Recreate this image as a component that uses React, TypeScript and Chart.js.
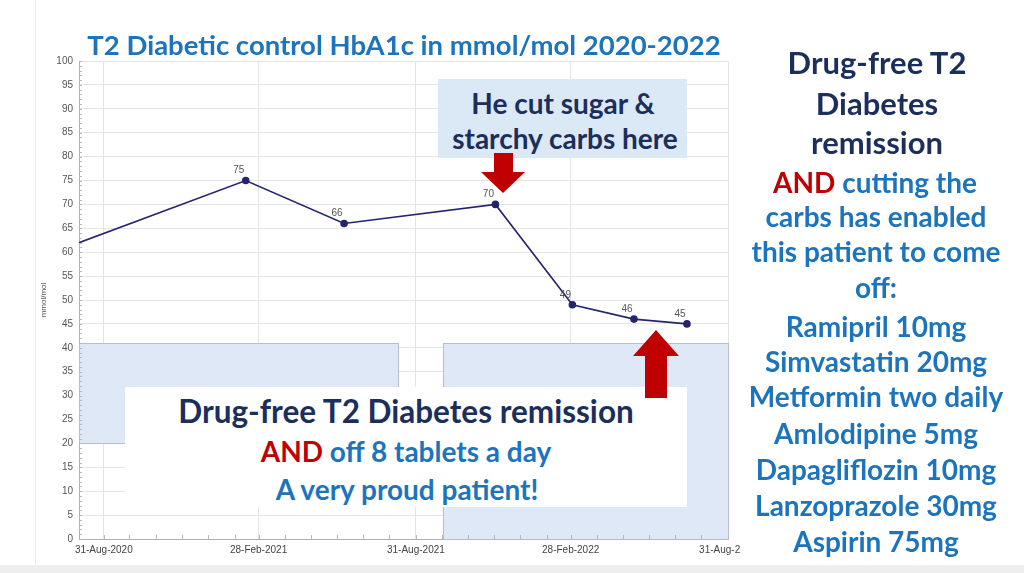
import React, { useEffect, useRef } from 'react';
import { Chart, registerables } from 'chart.js';

Chart.register(...registerables);

// ---------- data ----------
const axisStart = '2020-08-02';
const axisEnd = '2022-08-31';
const xTickDates = ['2020-08-31', '2021-02-28', '2021-08-31', '2022-02-28', '2022-08-31'];
const xTickLabels = ['31-Aug-2020', '28-Feb-2021', '31-Aug-2021', '28-Feb-2022', '31-Aug-2022'];
const testDates = ['2020-08-02', '2021-02-13', '2021-06-08', '2021-12-02', '2022-03-02', '2022-05-13', '2022-07-14'];
const hba1cValues = [62, 75, 66, 70, 49, 46, 45];
const valueLabels = ['', '75', '66', '70', '49', '46', '45'];
const yMin = 0;
const yMax = 100;
const yStep = 5;
const bandDates = [['2020-08-02', '2021-08-10'], ['2021-10-02', '2022-08-31']];
const bandLows = [20, 0];
const bandHighs = [41, 41];

const chartTitle = 'T2 Diabetic control HbA1c in mmol/mol 2020-2022';
const yAxisTitle = 'mmol/mol';
const topNoteLines = ['He cut sugar &', 'starchy carbs here'];
const boxHeadline = 'Drug-free T2 Diabetes remission';
const boxAnd = 'AND';
const boxLine2 = ' off 8 tablets a day';
const boxLine3 = 'A very proud patient!';
const sideHeading = ['Drug-free T2', 'Diabetes', 'remission'];
const sideAnd = 'AND';
const sideIntro = [' cutting the', 'carbs has enabled', 'this patient to come', 'off:'];
const drugsStopped = ['Ramipril 10mg', 'Simvastatin 20mg', 'Metformin two daily', 'Amlodipine 5mg', 'Dapagliflozin 10mg', 'Lanzoprazole 30mg', 'Aspirin 75mg'];

// ---------- helpers ----------
const DAY = 86400000;
const dayNum = (s: string) => Date.parse(s) / DAY;

const NAVY = '#1b2e5c';
const BLUE = '#1c74bc';
const RED = '#c00000';
const LINE = '#25256f';
const FONT = "Lato, 'Open Sans', sans-serif";

const bandPlugin = {
  id: 'bands',
  beforeDatasetsDraw(chart: any) {
    const { ctx, scales } = chart;
    const xs = scales.x;
    const ys = scales.y;
    ctx.save();
    bandDates.forEach((d, i) => {
      const x1 = Math.round(xs.getPixelForValue(dayNum(d[0]))) + 0.5;
      const x2 = Math.round(xs.getPixelForValue(dayNum(d[1]))) + 0.5;
      const y1 = Math.round(ys.getPixelForValue(bandHighs[i])) + 0.5;
      const y2 = Math.round(ys.getPixelForValue(bandLows[i])) + 0.5;
      ctx.fillStyle = '#dfe8f6';
      ctx.fillRect(x1, y1, x2 - x1, y2 - y1);
      ctx.strokeStyle = '#b4bfce';
      ctx.lineWidth = 1;
      ctx.strokeRect(x1, y1, x2 - x1, y2 - y1);
    });
    ctx.restore();
  },
};

const minorTickPlugin = {
  id: 'minorTicks',
  afterDatasetsDraw(chart: any) {
    const { ctx, scales, chartArea } = chart;
    const xs = scales.x;
    const ys = scales.y;
    ctx.save();
    ctx.strokeStyle = '#b8b8b8';
    ctx.lineWidth = 1;
    ctx.beginPath();
    for (let v = yMin; v <= yMax; v += 1) {
      const y = Math.round(ys.getPixelForValue(v)) + 0.5;
      ctx.moveTo(chartArea.left, y);
      ctx.lineTo(chartArea.left + 3, y);
    }
    const start = new Date(dayNum(axisStart) * DAY);
    for (let m = 0; m < 30; m++) {
      const d = new Date(Date.UTC(start.getUTCFullYear(), start.getUTCMonth() + m + 1, 0));
      const dn = d.getTime() / DAY;
      if (dn < dayNum(axisStart) || dn > dayNum(axisEnd)) continue;
      const x = Math.round(xs.getPixelForValue(dn)) + 0.5;
      ctx.moveTo(x, chartArea.bottom);
      ctx.lineTo(x, chartArea.bottom - 4);
    }
    ctx.stroke();
    ctx.restore();
  },
};

const valueLabelPlugin = {
  id: 'valueLabels',
  afterDatasetsDraw(chart: any) {
    const { ctx } = chart;
    const meta = chart.getDatasetMeta(0);
    ctx.save();
    ctx.font = "10px 'Liberation Sans', Arial, sans-serif";
    ctx.fillStyle = '#555555';
    ctx.textAlign = 'center';
    ctx.textBaseline = 'middle';
    meta.data.forEach((pt: any, i: number) => {
      if (!valueLabels[i]) return;
      ctx.fillText(valueLabels[i], pt.x - 7, pt.y - 10);
    });
    ctx.restore();
  },
};

function Text(props: { x: number; y: number; size: number; color: string; children: any; weight?: number }) {
  const { x, y, size, color, children, weight } = props;
  return (
    <div
      style={{
        position: 'absolute',
        left: x,
        top: y,
        transform: 'translate(-50%, -50%)',
        whiteSpace: 'nowrap',
        fontFamily: FONT,
        fontWeight: weight ?? 700,
        fontSize: size,
        lineHeight: 1,
        color,
      }}
    >
      {children}
    </div>
  );
}

export default function App() {
  const canvasRef = useRef<HTMLCanvasElement | null>(null);

  useEffect(() => {
    if (!canvasRef.current) return;
    const points = testDates.map((d, i) => ({ x: dayNum(d), y: hba1cValues[i] }));
    const chart = new Chart(canvasRef.current, {
      type: 'line',
      data: {
        datasets: [
          {
            data: points,
            borderColor: LINE,
            backgroundColor: LINE,
            borderWidth: 1.6,
            pointRadius: valueLabels.map((l) => (l ? 3 : 0)),
            pointBackgroundColor: LINE,
            pointBorderColor: LINE,
            tension: 0,
          },
        ],
      },
      options: {
        animation: false,
        responsive: false,
        devicePixelRatio: 1,
        layout: { padding: { top: 61, right: 12, bottom: 0, left: 0 } },
        plugins: { legend: { display: false }, tooltip: { enabled: false } },
        scales: {
          x: {
            type: 'linear',
            min: dayNum(axisStart),
            max: dayNum(axisEnd),
            afterBuildTicks: (scale: any) => {
              scale.ticks = xTickDates.map((d) => ({ value: dayNum(d) }));
            },
            afterFit: (scale: any) => {
              scale.paddingRight = 0;
              scale.paddingLeft = 0;
              scale.height = 34;
            },
            grid: { color: '#e4e4e4', drawTicks: false },
            border: { color: '#b0b0b0' },
            ticks: {
              autoSkip: false,
              maxRotation: 0,
              minRotation: 0,
              padding: 5,
              color: '#444444',
              font: { size: 10, family: "'Liberation Sans', Arial, sans-serif" },
              callback: (_v: any, i: number) => xTickLabels[i],
            },
          },
          y: {
            min: yMin,
            max: yMax,
            afterFit: (scale: any) => {
              scale.width = 79;
            },
            grid: { color: '#e4e4e4', drawTicks: false },
            border: { color: '#b0b0b0' },
            ticks: {
              stepSize: yStep,
              autoSkip: false,
              padding: 6,
              color: '#555555',
              font: { size: 10, family: "'Liberation Sans', Arial, sans-serif" },
            },
            title: {
              display: true,
              text: yAxisTitle,
              color: '#555555',
              font: { size: 8, family: "'Liberation Sans', Arial, sans-serif" },
              padding: { top: 39, bottom: 0 },
            },
          },
        },
      },
      plugins: [bandPlugin, minorTickPlugin, valueLabelPlugin],
    } as any);
    return () => chart.destroy();
  }, []);

  const sideBodyY = [216, 251, 287];
  const drugsY = [326, 361, 396, 433, 469, 505, 541];

  return (
    <div style={{ position: 'absolute', left: 0, top: 0, width: 1024, height: 573, background: '#ffffff', overflow: 'hidden' }}>
      <div style={{ position: 'absolute', left: 35, top: 0, width: 1, height: 565, background: '#ececec' }} />
      <div style={{ position: 'absolute', left: 0, top: 565, width: 1024, height: 8, background: '#eeeeee' }} />
      <canvas ref={canvasRef} width={740} height={573} style={{ position: 'absolute', left: 0, top: 0, width: 740, height: 573 }} />

      <Text x={404} y={45} size={27.5} color={BLUE}>{chartTitle}</Text>

      {/* top note */}
      <div style={{ position: 'absolute', left: 438, top: 79, width: 249, height: 79, background: '#dbe8f5' }} />
      <Text x={563} y={103} size={28} color={NAVY}>{topNoteLines[0]}</Text>
      <Text x={565} y={138} size={28} color={NAVY}>{topNoteLines[1]}</Text>

      {/* white summary box */}
      <div style={{ position: 'absolute', left: 125, top: 387, width: 562, height: 120, background: '#ffffff' }} />
      <Text x={406} y={412} size={31.5} color={NAVY}>{boxHeadline}</Text>
      <Text x={406} y={451} size={28} color={BLUE}>
        <span style={{ color: RED }}>{boxAnd}</span>
        {boxLine2}
      </Text>
      <Text x={407} y={489} size={28} color={BLUE}>{boxLine3}</Text>

      <svg width={1024} height={573} style={{ position: 'absolute', left: 0, top: 0, pointerEvents: 'none' }}>
        <polygon points="494,153 513,153 513,172 525,172 503,193 481,172 494,172" fill={RED} />
        <polygon points="656,330 679,356 667,356 667,398 645,398 645,356 633,356" fill={RED} />
      </svg>

      {/* right panel */}
      <Text x={877} y={62} size={31} color={NAVY}>{sideHeading[0]}</Text>
      <Text x={877} y={103} size={31} color={NAVY}>{sideHeading[1]}</Text>
      <Text x={877} y={142} size={31} color={NAVY}>{sideHeading[2]}</Text>
      <Text x={875} y={182} size={28} color={BLUE}>
        <span style={{ color: RED }}>{sideAnd}</span>
        {sideIntro[0]}
      </Text>
      {sideIntro.slice(1).map((t, i) => (
        <Text key={t} x={876} y={sideBodyY[i]} size={28} color={BLUE}>{t}</Text>
      ))}
      {drugsStopped.map((t, i) => (
        <Text key={t} x={876} y={drugsY[i]} size={28} color={BLUE}>{t}</Text>
      ))}
    </div>
  );
}
